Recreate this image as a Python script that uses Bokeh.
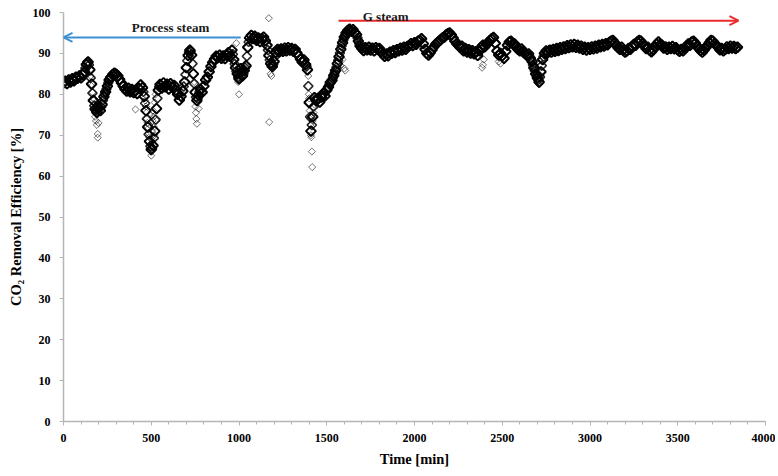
import math
from bokeh.plotting import figure
from bokeh.models import Range1d, SingleIntervalTicker, Arrow, OpenHead, Label
from bokeh.embed import file_html
from bokeh.resources import INLINE

# ---------------- data ----------------
time_min = list(range(0, 3841, 10))
efficiency = [
    82.8, 83.2, 82.6, 83.5, 83.0, 83.8, 83.3, 84.2, 83.9, 84.5,   # 0
    84.0, 84.8, 85.5, 87.3, 87.9, 86.0, 82.5, 78.5, 76.4, 75.6,   # 100
    76.8, 76.0, 77.5, 79.4, 80.6, 82.0, 83.5, 84.2, 84.8, 85.2,   # 200
    84.9, 84.5, 83.6, 82.8, 82.0, 81.3, 80.8, 81.5, 80.6, 81.2,   # 300
    80.4, 81.0, 80.2, 81.4, 82.3, 81.6, 79.5, 76.0, 72.0, 68.5,   # 400
    66.5, 67.5, 71.0, 76.5, 81.0, 82.4, 81.5, 82.8, 81.8, 82.5,   # 500
    81.3, 82.6, 81.7, 82.2, 81.0, 80.0, 78.6, 79.5, 80.8, 83.0,   # 600
    86.5, 89.5, 90.8, 89.6, 85.0, 80.5, 78.5, 79.8, 81.2, 80.5,   # 700
    82.0, 83.5, 84.2, 85.5, 86.8, 87.8, 88.6, 89.3, 89.0, 89.6,   # 800
    88.8, 89.4, 88.7, 89.5, 90.2, 89.3, 90.8, 88.5, 86.5, 85.0,   # 900
    83.8, 86.3, 84.5, 85.8, 87.0, 91.5, 93.8, 94.4, 93.6, 94.2,   # 1000
    93.2, 93.8, 92.9, 93.6, 94.0, 93.1, 92.0, 89.5, 87.5, 86.8,   # 1100
    88.0, 90.2, 91.0, 90.4, 91.1, 90.5, 91.3, 90.6, 91.4, 90.8,   # 1200
    91.2, 90.5, 91.0, 90.1, 89.4, 88.6, 87.9, 88.4, 87.3, 86.0,   # 1300
    78.0, 71.0, 74.5, 79.2, 78.4, 79.0, 78.1, 79.3, 80.2, 79.6,   # 1400
    81.0, 81.8, 82.9, 83.4, 84.6, 85.8, 87.5, 89.2, 91.0, 92.6,   # 1500
    94.0, 95.0, 95.6, 95.9, 95.4, 95.8, 95.1, 94.6, 93.0, 91.8,   # 1600
    91.2, 90.7, 91.4, 90.9, 91.5, 90.8, 91.3, 90.6, 91.4, 91.0,   # 1700
    91.2, 90.4, 89.8, 89.3, 89.9, 89.4, 90.3, 90.0, 90.7, 90.2,   # 1800
    90.9, 90.6, 91.3, 90.8, 91.5, 91.0, 91.7, 91.9, 92.4, 91.9,   # 1900
    92.6, 92.2, 93.0, 93.2, 93.6, 92.4, 91.0, 90.0, 89.6, 90.2,   # 2000
    90.9, 91.6, 92.2, 92.6, 93.0, 93.4, 93.8, 94.0, 94.5, 94.8,   # 2100
    95.0, 94.5, 93.8, 93.0, 92.4, 92.0, 91.5, 91.8, 90.6, 91.2,   # 2200
    90.3, 90.9, 90.1, 90.7, 89.9, 90.4, 89.5, 90.6, 91.5, 92.0,   # 2300
    91.6, 92.2, 92.6, 93.2, 93.6, 93.9, 92.5, 90.6, 89.6, 90.0,   # 2400
    89.4, 88.8, 90.5, 92.0, 92.8, 93.0, 92.4, 92.3, 91.5, 91.0,   # 2500
    90.6, 91.1, 90.4, 90.0, 89.5, 89.9, 88.8, 88.0, 86.5, 85.0,   # 2600
    84.0, 83.0, 85.5, 88.5, 90.0, 90.6, 90.2, 90.8, 90.3, 91.0,   # 2700
    90.5, 91.2, 90.7, 91.4, 91.0, 91.6, 91.2, 91.9, 91.4, 92.1,   # 2800
    91.6, 92.2, 91.5, 92.0, 91.3, 91.8, 91.0, 91.5, 90.8, 91.4,   # 2900
    91.0, 91.6, 91.1, 91.8, 91.3, 92.0, 91.6, 92.2, 91.8, 92.4,   # 3000
    92.1, 92.7, 93.0, 93.2, 92.6, 92.0, 91.4, 91.0, 91.5, 90.8,   # 3100
    90.3, 90.6, 91.2, 91.0, 91.7, 92.2, 92.0, 92.8, 93.2, 93.0,   # 3200
    92.4, 91.8, 91.2, 91.5, 90.8, 90.4, 90.9, 91.6, 92.3, 92.8,   # 3300
    92.2, 92.0, 91.3, 91.6, 91.0, 91.5, 91.2, 91.7, 91.1, 91.4,   # 3400
    90.9, 90.5, 91.0, 90.6, 91.3, 91.8, 92.3, 92.0, 92.8, 93.0,   # 3500
    92.5, 91.8, 91.2, 90.7, 90.3, 90.8, 91.4, 92.0, 92.6, 93.2,   # 3600
    93.0, 92.4, 92.0, 91.5, 90.9, 91.2, 90.6, 91.0, 91.6, 91.2,   # 3700
    91.8, 91.3, 91.7, 91.2, 91.5,                                 # 3800
]

# extra readings logged during the steep transients
transient_time = [125, 135, 145, 155, 165, 175, 185, 195,
                  215, 225, 235, 245, 255, 265,
                  455, 465, 475, 485, 495, 505, 515, 525, 535, 545,
                  685, 695, 705, 715, 725, 735, 745, 755, 765, 775,
                  965, 975, 985, 995, 1005, 1015, 1025, 1035, 1045, 1055,
                  1165, 1175, 1185, 1195, 1205, 1215,
                  1385, 1395, 1405, 1415, 1425, 1435,
                  1505, 1515, 1525, 1535, 1545, 1555, 1565, 1575, 1585, 1595,
                  1605, 1615,
                  1675, 1685, 1695,
                  2655, 2665, 2675, 2685, 2695, 2705, 2715, 2725, 2735]
transient_eff = [86.4, 87.8, 87.2, 84.0, 80.3, 77.2, 76.0, 76.3,
                 76.9, 78.5, 80.0, 81.3, 82.8, 84.0,
                 80.6, 77.8, 74.0, 70.2, 67.3, 66.8, 69.3, 73.8, 79.0, 81.8,
                 81.9, 84.8, 88.2, 90.3, 90.5, 87.5, 82.6, 79.3, 79.0, 80.6,
                 89.8, 87.4, 85.6, 84.2, 85.2, 85.3, 85.0, 86.5, 89.3, 92.8,
                 90.8, 88.4, 87.0, 87.3, 89.2, 90.7,
                 86.8, 82.0, 74.5, 72.5, 77.0, 78.8,
                 81.4, 82.4, 83.1, 84.0, 85.2, 86.6, 88.3, 90.1, 91.8, 93.3,
                 94.5, 95.3,
                 93.8, 92.4, 91.5,
                 89.3, 88.4, 87.2, 85.8, 84.5, 83.5, 84.2, 87.0, 89.2]

# scattered readings during the fast transients
spread_time = [155, 160, 165, 170, 175, 180, 185, 190, 195, 195, 200,
               410, 465, 470, 472, 475, 478, 480, 485, 488, 490, 492, 495,
               498, 500, 502, 505, 508, 510, 512, 515, 518, 520, 525, 530,
               745, 750, 752, 755, 757, 760, 765, 770,
               985, 990, 995, 1000, 1005,
               1170, 1172, 1180, 1185,
               1395, 1398, 1400, 1403, 1405, 1407, 1410, 1412, 1415, 1417,
               1420, 1425, 1430,
               1580, 1590, 1600, 1605,
               2385, 2390, 2395, 2480, 2490,
               2700, 2705, 2710, 2715, 2720]
spread_eff = [84.5, 82.0, 80.5, 79.0, 78.8, 74.5, 73.5, 72.5, 70.3, 69.4, 73.0,
              76.3, 78.5, 77.0, 75.5, 74.0, 73.0, 71.5, 70.5, 69.5, 72.5, 75.0, 67.8,
              66.2, 65.0, 69.0, 71.0, 73.5, 76.0, 74.5, 72.0, 70.0, 78.0, 80.0, 73.5,
              83.0, 78.5, 77.0, 75.5, 74.0, 72.8, 78.0, 76.5,
              92.5, 85.0, 83.0, 80.0, 84.0,
              98.6, 73.2, 85.0, 84.5,
              84.5, 80.0, 79.0, 76.0, 74.0, 72.5, 70.0, 69.5, 66.0, 62.2,
              73.5, 75.5, 77.5,
              87.0, 88.5, 86.3, 85.8,
              86.5, 87.2, 88.5, 88.0, 87.5,
              84.8, 86.0, 82.4, 83.5, 84.5]

phase_labels = ["Process steam", "G steam"]
x_label = "Time [min]"
y_label = "CO\u2082 Removal Efficiency [%]"

assert len(time_min) == len(efficiency)
assert len(transient_time) == len(transient_eff)
assert len(spread_time) == len(spread_eff)

# ---------------- figure ----------------
SERIF = "Liberation Serif"

p = figure(frame_width=702, frame_height=409,
           x_range=Range1d(0, 4000), y_range=Range1d(0, 100),
           output_backend="svg", toolbar_location=None,
           min_border_left=63, min_border_right=10,
           min_border_top=12, min_border_bottom=50)
p.outline_line_color = None
p.grid.visible = False
p.background_fill_color = "white"
p.border_fill_color = "white"

p.scatter(spread_time, spread_eff, marker="square", angle=math.pi / 4, size=5,
          fill_color=None, line_color="black", line_alpha=0.55, line_width=1)
p.scatter(transient_time, transient_eff, marker="square", angle=math.pi / 4, size=6.5,
          fill_color=None, line_color="black", line_alpha=0.85, line_width=1.6)
p.scatter(time_min, efficiency, marker="square", angle=math.pi / 4, size=7,
          fill_color=None, line_color="black", line_alpha=1.0, line_width=2)

for ax in (p.xaxis[0], p.yaxis[0]):
    ax.axis_line_color = "#b5b5b5"
    ax.axis_line_width = 1.5
    ax.major_tick_line_color = "#b5b5b5"
    ax.major_tick_out = 4
    ax.major_tick_in = 0
    ax.minor_tick_line_color = "#b5b5b5"
    ax.minor_tick_out = 3
    ax.minor_tick_in = 0
    ax.major_label_text_font = SERIF
    ax.major_label_text_font_style = "bold"
    ax.major_label_text_font_size = "12px"
    ax.major_label_text_color = "black"
    ax.axis_label_text_font = SERIF
    ax.axis_label_text_font_style = "bold"
    ax.axis_label_text_font_size = "14.5px"
    ax.axis_label_text_color = "black"

p.xaxis[0].ticker = SingleIntervalTicker(interval=500, num_minor_ticks=5)
p.yaxis[0].ticker = SingleIntervalTicker(interval=10, num_minor_ticks=0)
p.yaxis[0].minor_tick_line_color = None
p.xaxis[0].major_label_standoff = 8
p.yaxis[0].major_label_standoff = 9
p.xaxis[0].axis_label = x_label
p.yaxis[0].axis_label = y_label
p.xaxis[0].axis_label_standoff = 6
p.yaxis[0].axis_label_standoff = 6

BLUE = "#3b8fd3"
RED = "#ec2a2e"
p.add_layout(Arrow(end=OpenHead(size=9, line_color=BLUE, line_width=2),
                   x_start=1010, y_start=93.9, x_end=0, y_end=93.9,
                   line_color=BLUE, line_width=2))
p.add_layout(Arrow(end=OpenHead(size=9, line_color=RED, line_width=2),
                   x_start=1567, y_start=98.0, x_end=3846, y_end=98.0,
                   line_color=RED, line_width=2))

p.add_layout(Label(x=610, y=96.3, text=phase_labels[0], text_align="center",
                   text_baseline="middle", text_font=SERIF, text_font_style="bold",
                   text_font_size="13px", text_color="#1a1a1a"))
p.add_layout(Label(x=1705, y=99.0, text=phase_labels[1], text_align="left",
                   text_baseline="alphabetic", text_font=SERIF, text_font_style="bold",
                   text_font_size="13px", text_color="#1a1a1a"))

open("out.html", "w").write(file_html(p, INLINE))
